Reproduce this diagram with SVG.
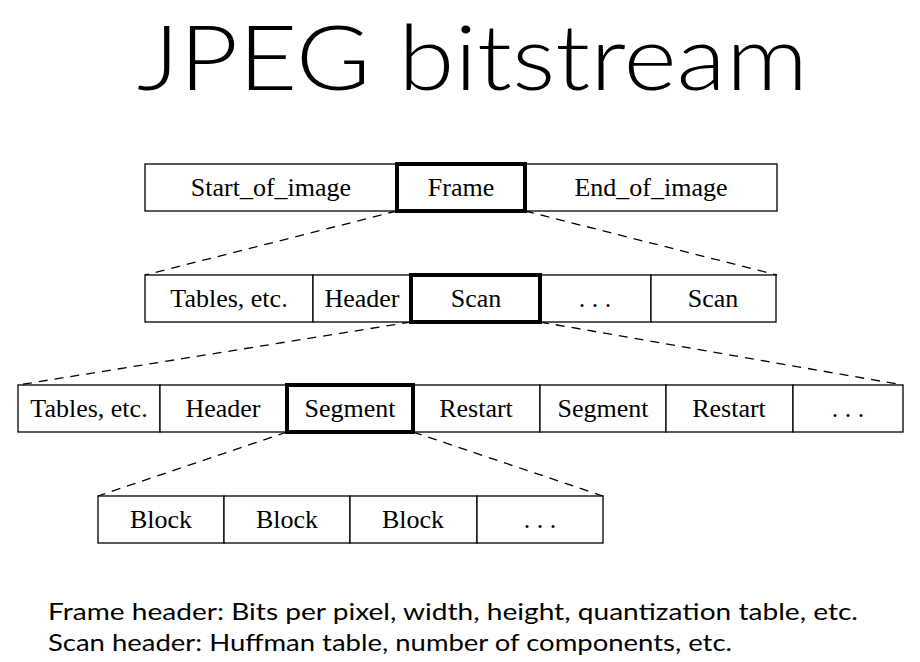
<svg xmlns="http://www.w3.org/2000/svg" width="920" height="662" viewBox="0 0 920 662">
<style>
.box{fill:#fff;stroke:#000;stroke-width:1.3}
.hl{fill:none;stroke:#000;stroke-width:4}
.t{font-family:'Liberation Serif','DejaVu Serif',serif;font-size:26px;text-anchor:middle;fill:#000}
.c{stroke:#000;stroke-width:1.3;stroke-dasharray:9,7;fill:none}
.title{font-family:Lato,'Open Sans',sans-serif;font-weight:300;font-size:90px;fill:#000}
.note{font-family:Lato,'Open Sans',sans-serif;font-size:24px;fill:#000}
</style>
<rect width="920" height="662" fill="#fff"/>
<text class="title" x="137" y="90" textLength="671" lengthAdjust="spacingAndGlyphs">JPEG bitstream</text>

<g id="connectors">
<line class="c" x1="397" y1="211" x2="145" y2="275"/>
<line class="c" x1="525" y1="211" x2="777" y2="275"/>
<line class="c" x1="411" y1="322" x2="18" y2="385"/>
<line class="c" x1="540" y1="322" x2="903" y2="385"/>
<line class="c" x1="287" y1="432" x2="98" y2="496"/>
<line class="c" x1="413" y1="432" x2="603" y2="496"/>
</g>

<g id="row1">
<g id="start_of_image"><rect class="box" x="145" y="164" width="252" height="47"/><text class="t" x="271" y="196">Start_of_image</text></g>
<g id="end_of_image"><rect class="box" x="525" y="164" width="252" height="47"/><text class="t" x="651" y="196">End_of_image</text></g>
<g id="frame"><rect class="box" x="397" y="164" width="128" height="47"/><rect class="hl" x="397" y="164" width="128" height="47"/><text class="t" x="461" y="196">Frame</text></g>
</g>

<g id="row2">
<g id="tables1"><rect class="box" x="145" y="275" width="168" height="47"/><text class="t" x="229" y="307">Tables, etc.</text></g>
<g id="header1"><rect class="box" x="313" y="275" width="98" height="47"/><text class="t" x="362" y="307">Header</text></g>
<g id="dots1"><rect class="box" x="540" y="275" width="111" height="47"/><text class="t" x="595" y="307">. . .</text></g>
<g id="scan2"><rect class="box" x="651" y="275" width="125" height="47"/><text class="t" x="713" y="307">Scan</text></g>
<g id="scan1"><rect class="box" x="411" y="275" width="129" height="47"/><rect class="hl" x="411" y="275" width="129" height="47"/><text class="t" x="476" y="307">Scan</text></g>
</g>

<g id="row3">
<g id="tables2"><rect class="box" x="18" y="385" width="142" height="47"/><text class="t" x="89" y="417">Tables, etc.</text></g>
<g id="header2"><rect class="box" x="160" y="385" width="127" height="47"/><text class="t" x="223" y="417">Header</text></g>
<g id="restart1"><rect class="box" x="413" y="385" width="127" height="47"/><text class="t" x="476" y="417">Restart</text></g>
<g id="segment2"><rect class="box" x="540" y="385" width="126" height="47"/><text class="t" x="603" y="417">Segment</text></g>
<g id="restart2"><rect class="box" x="666" y="385" width="127" height="47"/><text class="t" x="729" y="417">Restart</text></g>
<g id="dots2"><rect class="box" x="793" y="385" width="110" height="47"/><text class="t" x="848" y="417">. . .</text></g>
<g id="segment1"><rect class="box" x="287" y="385" width="126" height="47"/><rect class="hl" x="287" y="385" width="126" height="47"/><text class="t" x="350" y="417">Segment</text></g>
</g>

<g id="row4">
<g id="block1"><rect class="box" x="98" y="496" width="126" height="47"/><text class="t" x="161" y="528">Block</text></g>
<g id="block2"><rect class="box" x="224" y="496" width="126" height="47"/><text class="t" x="287" y="528">Block</text></g>
<g id="block3"><rect class="box" x="350" y="496" width="127" height="47"/><text class="t" x="413" y="528">Block</text></g>
<g id="dots3"><rect class="box" x="477" y="496" width="126" height="47"/><text class="t" x="540" y="528">. . .</text></g>
</g>

<text class="note" x="48" y="620" textLength="810" lengthAdjust="spacingAndGlyphs">Frame header: Bits per pixel, width, height, quantization table, etc.</text>
<text class="note" x="48" y="651" textLength="684" lengthAdjust="spacingAndGlyphs">Scan header: Huffman table, number of components, etc.</text>
</svg>
